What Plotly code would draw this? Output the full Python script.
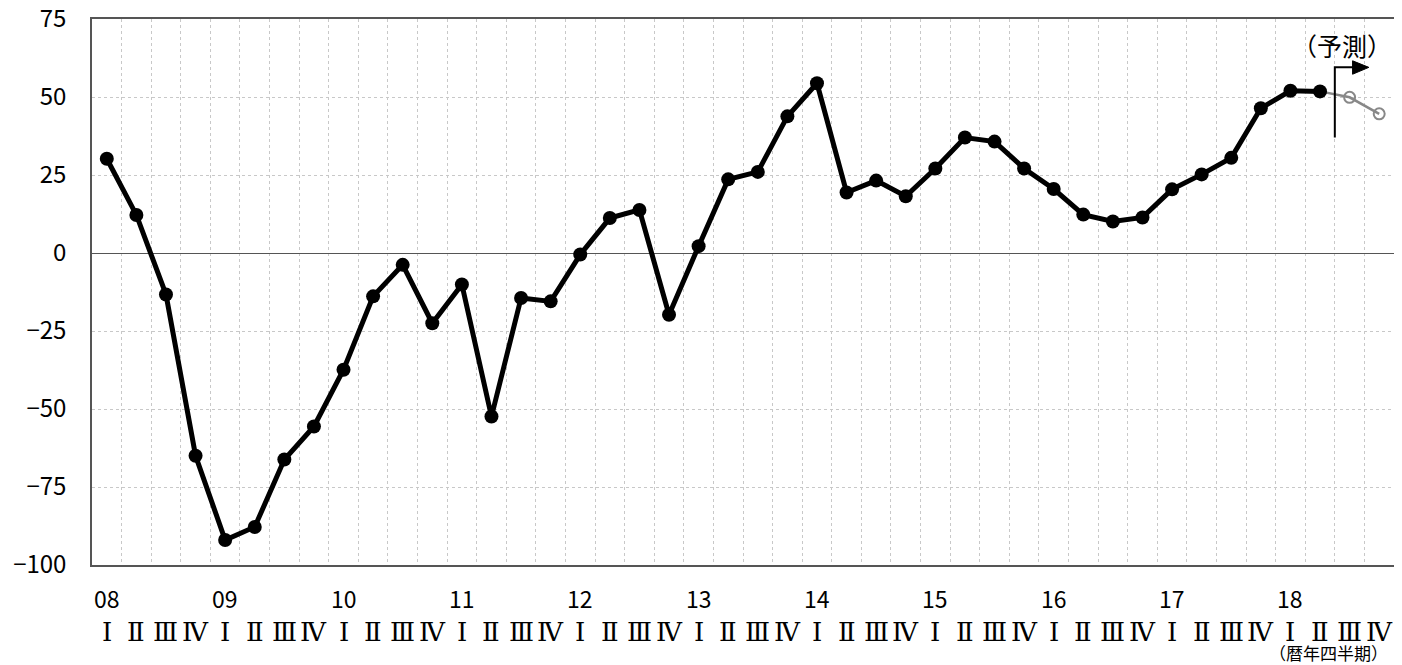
import plotly.graph_objects as go

# quarterly index values, 2008 Q1 - 2018 Q2 (actual)
years = ["08", "09", "10", "11", "12", "13", "14", "15", "16", "17", "18"]
quarters = ["Ⅰ", "Ⅱ", "Ⅲ", "Ⅳ"]
actual = [
    30.2, 12.2, -13.3, -65.0,
    -92.0, -87.8, -66.2, -55.6,
    -37.4, -13.9, -3.8, -22.5,
    -10.1, -52.4, -14.4, -15.5,
    -0.5, 11.2, 13.8, -19.8,
    2.2, 23.6, 26.0, 43.8,
    54.4, 19.4, 23.2, 18.2,
    27.1, 37.0, 35.7, 27.1,
    20.5, 12.3, 10.1, 11.4,
    20.4, 25.2, 30.5, 46.4,
    52.0, 51.8,
]
# forecast, 2018 Q2 (last actual) - 2018 Q4
forecast = [51.8, 49.9, 44.6]

n = len(years) * 4
x_actual = list(range(len(actual)))
x_fore = list(range(len(actual) - 1, len(actual) - 1 + len(forecast)))

JP = "Noto Sans CJK JP"
SERIF = "DejaVu Serif, Liberation Serif, Noto Sans CJK JP"

fig = go.Figure()

fig.add_trace(go.Scatter(
    x=x_fore, y=forecast, mode="lines+markers",
    line=dict(color="#888888", width=2.5),
    marker=dict(symbol="circle-open", size=11, color="#888888", line=dict(width=2)),
    showlegend=False, hoverinfo="skip",
))
fig.add_trace(go.Scatter(
    x=x_actual, y=actual, mode="lines+markers",
    line=dict(color="black", width=5),
    marker=dict(symbol="circle", size=14, color="black"),
    showlegend=False,
))

# year labels and quarter numerals under the axis
anns = []
for i, yr in enumerate(years):
    anns.append(dict(x=i * 4, y=-0.060, xref="x", yref="paper", text=yr,
                     showarrow=False, font=dict(family=JP, size=23, color="black"),
                     xanchor="center", yanchor="middle"))
for k in range(n):
    anns.append(dict(x=k, y=-0.123, xref="x", yref="paper", text=quarters[k % 4],
                     showarrow=False, font=dict(family=SERIF, size=26, color="black"),
                     xanchor="center", yanchor="middle"))
anns.append(dict(x=0.997, y=-0.161, xref="paper", yref="paper", text="（暦年四半期）",
                 showarrow=False, font=dict(family=JP, size=17, color="black"),
                 xanchor="right", yanchor="middle"))
anns.append(dict(x=41.75, y=66.8, xref="x", yref="y", text="（予測）",
                 showarrow=False, font=dict(family=JP, size=25, color="black"),
                 xanchor="center", yanchor="middle"))

shapes = [
    dict(type="path", xref="x", yref="y", path="M 41.5,37 L 41.5,59.5 L 42.15,59.5",
         line=dict(color="black", width=2)),
    dict(type="path", xref="x", yref="y", path="M 42.1,61.6 L 42.65,59.5 L 42.1,57.3 Z",
         line=dict(color="black", width=1), fillcolor="black"),
]

# page body adds an 8px margin, so the figure is 8px smaller than the window
fig.update_layout(
    width=1394, height=657,
    margin=dict(l=84, r=8, t=11, b=100),
    paper_bgcolor="white", plot_bgcolor="white",
    annotations=anns, shapes=shapes,
    font=dict(family=JP, color="black"),
)
fig.update_xaxes(
    range=[-0.5, n - 0.5],
    tickvals=[k + 0.5 for k in range(-1, n)],
    showticklabels=False, ticks="", automargin=False,
    showgrid=True, gridcolor="#c8c8c8", griddash="dot", gridwidth=1,
    showline=True, linecolor="#555555", linewidth=1.5, mirror=True,
    zeroline=False,
)
fig.update_yaxes(
    range=[-100, 75], dtick=25, tick0=0, automargin=False,
    tickfont=dict(family=JP, size=24, color="black"),
    ticks="", ticklabelstandoff=19, ticklabeloverflow="allow",
    showgrid=True, gridcolor="#c8c8c8", griddash="dot", gridwidth=1,
    zeroline=True, zerolinecolor="#555555", zerolinewidth=1.2,
    showline=True, linecolor="#555555", linewidth=1.5, mirror=True,
)

fig.write_html("out.html")
